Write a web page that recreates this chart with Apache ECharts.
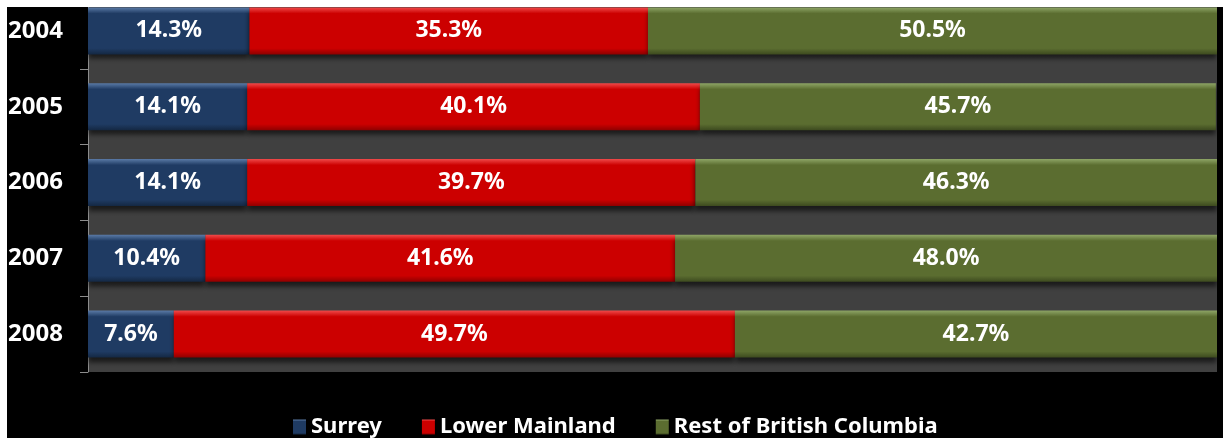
<!doctype html>
<html lang="en">
<head>
    <meta charset="utf-8">
    <title>chart</title>
    <script src="https://cdn.jsdelivr.net/npm/echarts@6/dist/echarts.min.js"></script>
    <style>
        html, body { margin: 0; padding: 0; background: #ffffff; overflow: hidden; }
        /* 整体上移 7px，让顶部类目带被裁掉一点 */
        #main { width: 1223px; height: 445px; margin-top: -7px; }
    </style>
</head>
<body>
<div id="main"></div>
<script>
    // 数据
    const years = ['2004', '2005', '2006', '2007', '2008'];
    const surrey = [14.3, 14.1, 14.1, 10.4, 7.6];
    const lowerMainland = [35.3, 40.1, 39.7, 41.6, 49.7];
    const restOfBC = [50.5, 45.7, 46.3, 48.0, 42.7];
    const seriesNames = ['Surrey', 'Lower Mainland', 'Rest of British Columbia'];

    // 斜面效果的渐变
    const bevel = (light, base, dark) => new echarts.graphic.LinearGradient(0, 0, 0, 1, [
        {offset: 0, color: light},
        {offset: 0.13, color: base},
        {offset: 0.87, color: base},
        {offset: 1, color: dark}
    ]);

    const makeSeries = (name, data, fill) => ({
        name: name,
        type: 'bar',
        stack: 'total',
        barWidth: 47,
        data: data,
        itemStyle: {
            color: fill,
            shadowColor: 'rgba(0,0,0,0.6)',
            shadowBlur: 5,
            shadowOffsetY: 5
        },
        label: {
            show: true,
            position: 'inside',
            color: '#ffffff',
            fontFamily: 'Noto Sans',
            fontWeight: 'bold',
            fontSize: 23,
            formatter: p => p.value.toFixed(1) + '%'
        }
    });

    const myChart = echarts.init(document.getElementById('main'));
    myChart.setOption({
        animation: false,
        backgroundColor: '#000000',
        grid: {
            show: true,
            left: 88,
            right: 6,
            top: 0,
            bottom: 66,
            backgroundColor: '#404040',
            borderWidth: 0
        },
        xAxis: {
            type: 'value',
            min: 0,
            max: 100,
            show: false
        },
        yAxis: {
            type: 'category',
            inverse: true,
            data: years,
            axisLine: {lineStyle: {color: '#8c8c8c', width: 1}},
            axisTick: {show: true, length: 8, lineStyle: {color: '#8c8c8c'}},
            axisLabel: {
                color: '#ffffff',
                fontFamily: 'Noto Sans',
                fontWeight: 'bold',
                fontSize: 24,
                align: 'left',
                margin: 80
            }
        },
        legend: {
            data: seriesNames,
            left: 288,
            top: 418,
            itemWidth: 13,
            itemHeight: 15,
            itemGap: 40,
            icon: 'rect',
            textStyle: {
                color: '#ffffff',
                fontFamily: 'Noto Sans',
                fontWeight: 'bold',
                fontSize: 22
            }
        },
        graphic: [
            {type: 'rect', z: 100, shape: {x: 0, y: 0, width: 1223, height: 14}, style: {fill: '#ffffff'}},
            {type: 'rect', z: 100, shape: {x: 0, y: 0, width: 7, height: 445}, style: {fill: '#ffffff'}}
        ],
        series: [
            makeSeries(seriesNames[0], surrey, bevel('#5a7aa6', '#1f3b63', '#142843')),
            makeSeries(seriesNames[1], lowerMainland, bevel('#f04a4a', '#cc0000', '#8f0000')),
            makeSeries(seriesNames[2], restOfBC, bevel('#8ea566', '#5b6d30', '#3d4a1f'))
        ]
    });
</script>
</body>
</html>
